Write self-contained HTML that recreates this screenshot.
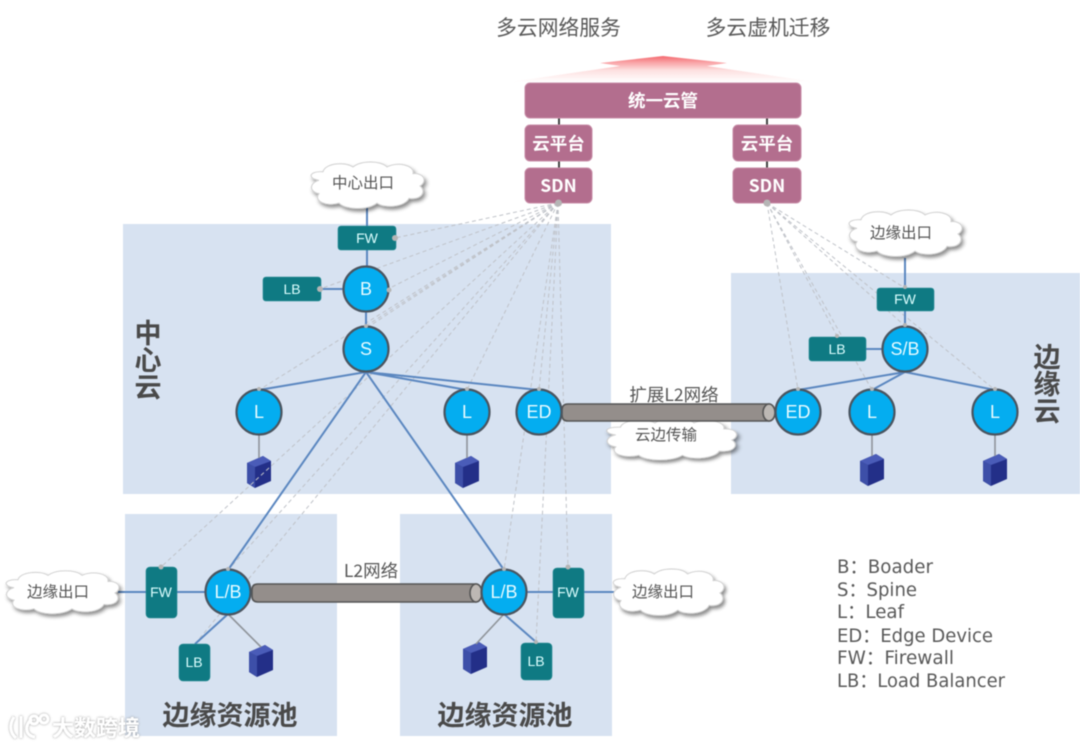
<!DOCTYPE html>
<html><head><meta charset="utf-8"><style>
html,body{margin:0;padding:0;background:#fff;width:1080px;height:747px;overflow:hidden}
svg{display:block;filter:blur(.45px)}
text{font-family:"Liberation Sans","Noto Sans CJK SC",sans-serif;text-anchor:middle}
.zh{font-family:"Noto Sans CJK SC","Liberation Sans",sans-serif}
.panel{fill:#d7e2f1}
.p{fill:#b36e8e;stroke:#c78ba6;stroke-width:1}
.pt{fill:#fff;font-weight:700;font-family:"Noto Sans CJK SC",sans-serif;font-size:17.5px}
.t{fill:#0f7a83;stroke:#2a8c94;stroke-width:.6}
.tt{fill:#dff;font-size:14px}
.n{fill:#04adf0;stroke:#4a5560;stroke-width:2.2}
.nt{fill:#e8fbff;font-size:18px}
.b{stroke:#5b87c0;stroke-width:2;fill:none}
.g{stroke:#8f949a;stroke-width:1.6;fill:none}
.d{stroke:#bfc2c8;stroke-width:1;stroke-dasharray:4 3;fill:none}
.dot{fill:#b5b5b5}
.ct{fill:#555;font-size:15.5px;font-family:"Noto Sans CJK SC",sans-serif}
.ct2{fill:#555;font-size:17.5px;font-family:"Noto Sans CJK SC",sans-serif}
.h{fill:#4a4a4a;font-weight:700;font-family:"Noto Sans CJK SC",sans-serif;font-size:27px}
.l{fill:#595959;font-size:19px;text-anchor:start;font-family:"DejaVu Sans","Liberation Sans","Noto Sans CJK SC",sans-serif}
</style></head><body>
<svg width="1080" height="747" viewBox="0 0 1080 747" xmlns="http://www.w3.org/2000/svg">
<defs>
<linearGradient id="ar" x1="0" y1="0" x2="0" y2="1"><stop offset="0" stop-color="#f4686e"/><stop offset=".25" stop-color="#f9a3a6"/><stop offset=".55" stop-color="#fde0e0"/><stop offset="1" stop-color="#fff"/></linearGradient>
<filter id="sh" x="-20%" y="-30%" width="140%" height="170%"><feDropShadow dx="2" dy="3" stdDeviation="2" flood-color="#000" flood-opacity=".45"/></filter>
<filter id="wm" x="-10%" y="-20%" width="120%" height="150%"><feDropShadow dx="0" dy="0" stdDeviation="1" flood-color="#777" flood-opacity=".8"/></filter>
<g id="cloud"><path filter="url(#sh)" d="M-48,-6 C-60,-8 -58,-16 -44,-15 C-42,-24 -22,-26 -14,-20 C-6,-27 14,-27 20,-20 C30,-26 48,-22 46,-13 C58,-14 60,-4 53,0 C60,6 54,15 42,13 C38,22 18,24 10,18 C0,26 -22,25 -28,18 C-40,22 -54,16 -48,8 C-58,6 -58,-3 -48,-6 Z" fill="#fff" stroke="#d0d0d0" stroke-width="1"/></g>
<g id="server"><path d="M-12,-9 L4,-16 L12,-11 L12,9 L-4,16 L-12,11 Z" fill="#232f88"/><path d="M-12,-9 L-4,-5 L-4,16 L-12,11 Z" fill="#3d4fa8"/><path d="M-12,-9 L4,-16 L12,-11 L-4,-5 Z" fill="#4a5cb8"/></g>
</defs>

<rect class="panel" x="123" y="224" width="488" height="270"/>
<rect class="panel" x="731" y="273" width="349" height="221"/>
<rect class="panel" x="125" y="514" width="212" height="222"/>
<rect class="panel" x="400" y="514" width="212" height="222"/>

<text class="zh" x="558.500" y="35" font-size="20.800" fill="#595959">多云网络服务</text>
<text class="zh" x="768" y="35" font-size="20.800" fill="#595959">多云虚机迁移</text>
<path d="M663,56 L727,63 L707,66 L815,82 L510,82 L620,66 L600,63 Z" fill="url(#ar)"/>

<!-- servers -->
<use href="#server" transform="translate(259,472)"/>
<use href="#server" transform="translate(467,472)"/>
<use href="#server" transform="translate(872,470)"/>
<use href="#server" transform="translate(995,470)"/>
<use href="#server" transform="translate(261,661)"/>
<use href="#server" transform="translate(475,658)"/>

<!-- dashed SDN links -->
<g class="d">
<path d="M558,203 L395,238"/><path d="M558,203 L320,289"/><path d="M558,203 L388,289"/>
<path d="M558,203 L366,326"/><path d="M558,203 L368,327"/><path d="M558,203 L259,390"/>
<path d="M558,203 L467,390"/><path d="M558,203 L539,390"/><path d="M558,203 L161,567"/>
<path d="M558,203 L228,570"/><path d="M558,203 L195,644"/>
<path d="M558,203 L504,570"/><path d="M558,203 L536,642"/><path d="M558,203 L568,567"/>
<path d="M767,203 L798,390"/><path d="M767,203 L837,336"/><path d="M767,203 L872,390"/>
<path d="M767,203 L995,390"/><path d="M767,203 L905,326"/><path d="M767,203 L905,288"/>
</g>

<!-- top connectors -->
<path d="M559,118 V125 M559,161 V168 M767,118 V125 M767,161 V168" stroke="#444" stroke-width="2"/>

<!-- blue links -->
<g class="b">
<path d="M367,205 V226 M367,250 V268 M321,289 H344 M366,310 V328"/>
<path d="M366,372 L259,390 M366,372 L467,390 M366,372 L539,390 M366,372 L228,570 M366,372 L504,570"/>
<path d="M905,258 V288 M905,311 V328 M866,349 H884 M905,372 L798,390 M905,372 L872,390 M905,372 L995,390"/>
<path d="M118,592 H146 M177,592 H206 M228,614 L195,644"/>
<path d="M526,592 H553 M584,592 H614 M504,614 L536,642"/>
</g>
<g class="g">
<path d="M259,434 V458 M467,434 V458 M872,434 V456 M995,434 V456 M228,614 L261,647 M504,614 L476,644"/>
</g>

<!-- clouds -->
<use href="#cloud" transform="translate(367,186) scale(1,.95)"/>
<use href="#cloud" transform="translate(905,234) scale(1,.95)"/>
<use href="#cloud" transform="translate(62,593) scale(1,.88)"/>
<use href="#cloud" transform="translate(668,593) scale(.98,.95)"/>
<use href="#cloud" transform="translate(671,440) scale(1.15,.85)"/>
<text class="ct" x="363" y="188">中心出口</text>
<text class="ct" x="901" y="238">边缘出口</text>
<text class="ct" x="58" y="597">边缘出口</text>
<text class="ct" x="663" y="597">边缘出口</text>
<text class="ct" x="666" y="440">云边传输</text>

<!-- pipes -->
<g stroke="#555" stroke-width="1.6">
<path d="M568,404 H769 A6,8.5 0 0 1 769,421 H568 Q562,421 562,415 V410 Q562,404 568,404 Z" fill="#948e8b"/>
<ellipse cx="769" cy="412.5" rx="6" ry="8.5" fill="#bdb8b4"/>
<path d="M258,584 H476 A6,9 0 0 1 476,602 H258 Q252,602 252,596 V590 Q252,584 258,584 Z" fill="#948e8b"/>
<ellipse cx="476" cy="593" rx="6" ry="9" fill="#bdb8b4"/>
</g>
<text class="ct2" x="674" y="401">扩展L2网络</text>
<text class="ct2" x="371" y="577">L2网络</text>

<!-- cloud mgmt -->
<rect class="p" x="525" y="83" width="276" height="35" rx="5"/>
<rect class="p" x="525" y="125" width="67" height="36" rx="5"/>
<rect class="p" x="733" y="125" width="68" height="36" rx="5"/>
<rect class="p" x="525" y="168" width="67" height="35" rx="5"/>
<rect class="p" x="733" y="168" width="68" height="35" rx="5"/>
<text class="pt" x="663" y="107">统一云管</text>
<text class="pt" x="558.500" y="150">云平台</text>
<text class="pt" x="767" y="150">云平台</text>
<text class="pt" x="558.500" y="192">SDN</text>
<text class="pt" x="767" y="192">SDN</text>

<!-- teal boxes -->
<rect class="t" x="338" y="226" width="58" height="24" rx="3"/>
<rect class="t" x="263" y="277" width="58" height="24" rx="3"/>
<rect class="t" x="877" y="288" width="57" height="23" rx="3"/>
<rect class="t" x="809" y="337" width="57" height="24" rx="3"/>
<rect class="t" x="146" y="567" width="31" height="51" rx="4"/>
<rect class="t" x="179" y="644" width="31" height="37" rx="4"/>
<rect class="t" x="553" y="568" width="31" height="50" rx="4"/>
<rect class="t" x="521" y="643" width="31" height="37" rx="4"/>
<g class="tt">
<text x="367" y="243">FW</text><text x="292" y="294">LB</text>
<text x="905" y="304">FW</text><text x="837" y="354">LB</text>
<text x="161" y="597">FW</text><text x="194" y="667">LB</text>
<text x="568" y="597">FW</text><text x="536" y="666">LB</text>
</g>

<!-- nodes -->
<g class="n">
<circle cx="366" cy="289" r="22.500"/><circle cx="366" cy="349" r="22.500"/>
<circle cx="259" cy="412" r="22.500"/><circle cx="467" cy="412" r="22.500"/><circle cx="539" cy="412" r="22.500"/>
<circle cx="905" cy="349" r="22.500"/><circle cx="798" cy="412" r="22.500"/><circle cx="872" cy="412" r="22.500"/><circle cx="995" cy="412" r="22.500"/>
<circle cx="228" cy="592" r="22.500"/><circle cx="504" cy="592" r="22.500"/>
</g>
<g class="nt">
<text x="366" y="295">B</text><text x="366" y="355">S</text>
<text x="259" y="418">L</text><text x="467" y="418">L</text><text x="539" y="418">ED</text>
<text x="905" y="355">S/B</text><text x="798" y="418">ED</text><text x="872" y="418">L</text><text x="995" y="418">L</text>
<text x="228" y="598">L/B</text><text x="504" y="598">L/B</text>
</g>

<!-- dots -->
<g class="dot">
<circle cx="558.500" cy="203" r="3.500"/><circle cx="767" cy="203" r="3.500"/>
<circle cx="395" cy="238" r="3"/><circle cx="320" cy="289" r="3"/><circle cx="389" cy="290" r="2.500"/>
<circle cx="366" cy="326" r="2"/><circle cx="259" cy="389" r="2"/><circle cx="467" cy="389" r="2"/><circle cx="539" cy="389" r="2"/>
<circle cx="161" cy="567" r="2.500"/><circle cx="228" cy="569" r="2"/><circle cx="504" cy="569" r="2"/><circle cx="568" cy="567" r="2.500"/><circle cx="536" cy="642" r="2"/>
<circle cx="905" cy="287" r="2"/><circle cx="905" cy="325" r="2"/><circle cx="837" cy="336" r="2"/><circle cx="798" cy="389" r="2"/><circle cx="872" cy="389" r="2"/><circle cx="995" cy="389" r="2"/>
</g>

<!-- headings -->
<text class="h" x="148" y="343">中</text>
<text class="h" x="148" y="370">心</text>
<text class="h" x="148" y="397">云</text>
<text class="h" x="1047" y="367">边</text>
<text class="h" x="1047" y="394">缘</text>
<text class="h" x="1047" y="421">云</text>
<text class="h" x="230" y="725">边缘资源池</text>
<text class="h" x="505" y="725">边缘资源池</text>

<!-- legend -->
<text class="l" x="837" y="573" textLength="96" lengthAdjust="spacingAndGlyphs">B：Boader</text>
<text class="l" x="837" y="596" textLength="80" lengthAdjust="spacingAndGlyphs">S：Spine</text>
<text class="l" x="837" y="618" textLength="67" lengthAdjust="spacingAndGlyphs">L：Leaf</text>
<text class="l" x="837" y="642" textLength="156" lengthAdjust="spacingAndGlyphs">ED：Edge Device</text>
<text class="l" x="837" y="664" textLength="117" lengthAdjust="spacingAndGlyphs">FW：Firewall</text>
<text class="l" x="837" y="687" textLength="168" lengthAdjust="spacingAndGlyphs">LB：Load Balancer</text>

<!-- watermark -->
<g filter="url(#wm)">
<g stroke="#fff" stroke-width="3" fill="none">
<path d="M14,717 C9,725 10,733 16,738 M21,716 L21,738 M32,719 C24,725 25,736 35,737"/>
<circle cx="34" cy="720" r="4"/><circle cx="44" cy="719" r="4"/>
</g>
<text class="zh" x="96" y="736" font-size="22" fill="#fff" font-weight="700">大数跨境</text>
</g>
</svg>
</body></html>
